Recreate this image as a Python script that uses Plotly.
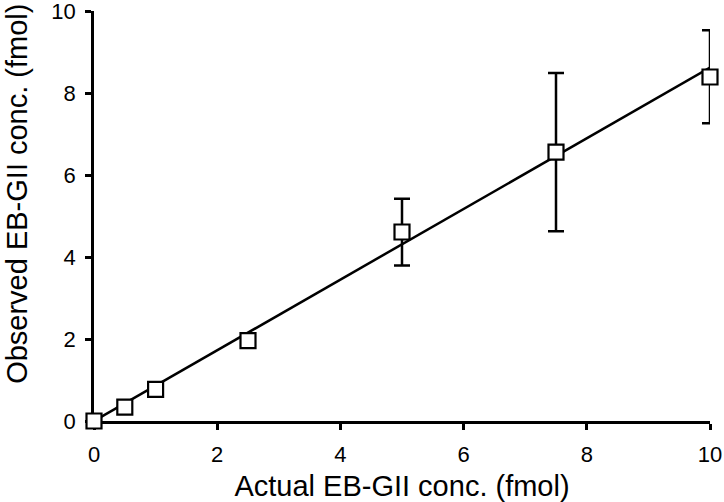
import plotly.graph_objects as go

actual = [0, 0.5, 1, 2.5, 5, 7.5, 10]
observed = [0.0, 0.34, 0.77, 1.96, 4.61, 6.56, 8.39]
err_plus = [0, 0, 0, 0.08, 0.81, 1.93, 1.14]
err_minus = [0, 0, 0, 0.08, 0.82, 1.93, 1.13]

fit_x = [0, 10]
fit_y = [0.0, 8.62]

fig = go.Figure()

fig.add_trace(go.Scatter(x=fit_x, y=fit_y, mode='lines',
                         line=dict(color='black', width=2.5),
                         cliponaxis=False, showlegend=False))

fig.add_trace(go.Scatter(x=actual, y=observed, mode='markers',
                         marker=dict(symbol='square', size=15, color='white',
                                     line=dict(color='black', width=2.2)),
                         error_y=dict(type='data', symmetric=False,
                                      array=err_plus, arrayminus=err_minus,
                                      color='black', thickness=2.5, width=8),
                         cliponaxis=False, showlegend=False))

axis_style = dict(range=[0, 10], dtick=2, showgrid=False, zeroline=False,
                  showline=True, linecolor='black', linewidth=2.5,
                  ticks='outside', ticklen=6, tickwidth=2.5, tickcolor='black',
                  tickfont=dict(size=22, color='black'),
                  automargin=False, ticklabeloverflow='allow',
                  layer='below traces')

fig.update_layout(
    width=724, height=502,
    margin=dict(l=94, r=14, t=11, b=81),
    plot_bgcolor='white', paper_bgcolor='white',
    font=dict(family='Liberation Sans, Arial, sans-serif', color='black'),
    xaxis=dict(axis_style, ticklabelstandoff=6,
               title=dict(text='Actual EB-GII conc. (fmol)', font=dict(size=29))),
    yaxis=dict(axis_style, ticklabelstandoff=5),
)

fig.add_annotation(text='Observed EB-GII conc. (fmol)', textangle=-90,
                   xref='paper', yref='paper', x=0, y=0.554,
                   xanchor='center', yanchor='middle', xshift=-77,
                   showarrow=False, font=dict(size=29))

# drop the default 8px body margin so the figure fills the window
fig.write_html("out.html", config={'displayModeBar': False},
               post_script="document.body.style.margin='0';")
